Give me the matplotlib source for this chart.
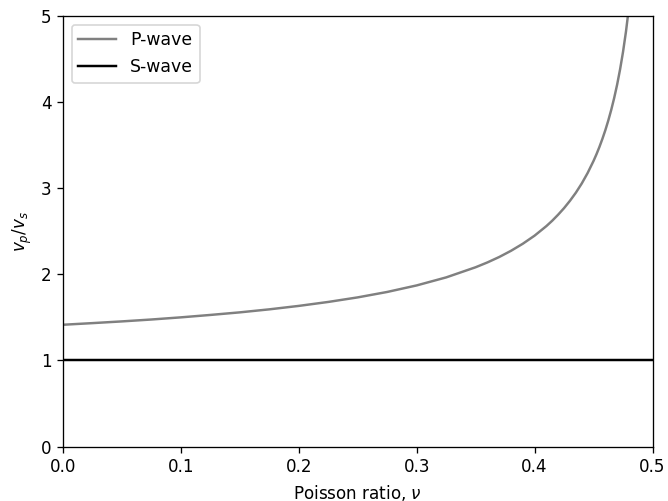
import matplotlib
matplotlib.use("Agg")
import matplotlib.pyplot as plt

# Poisson ratio values and the read-off vp/vs ratio for P-wave
nu = [0.0, 0.025, 0.05, 0.075, 0.1, 0.125, 0.15, 0.175, 0.2, 0.225, 0.25, 0.275,
      0.3, 0.325, 0.35, 0.36, 0.37, 0.38, 0.39, 0.4, 0.41, 0.415, 0.42, 0.425, 0.43,
      0.435, 0.44, 0.445, 0.45, 0.4525, 0.455, 0.4575, 0.46, 0.4625, 0.465, 0.4675,
      0.47, 0.4725, 0.475, 0.4775, 0.48]
p_wave = [1.414, 1.433, 1.453, 1.475, 1.500, 1.528, 1.558, 1.593, 1.633, 1.679, 1.732, 1.795,
          1.871, 1.964, 2.082, 2.138, 2.201, 2.273, 2.355, 2.449, 2.560, 2.623, 2.693, 2.769, 2.854,
          2.948, 3.055, 3.177, 3.317, 3.395, 3.480, 3.573, 3.674, 3.786, 3.910, 4.048,
          4.203, 4.380, 4.583, 4.819, 5.099]
s_nu = [0.0, 0.5]
s_wave = [1.0, 1.0]

dpi = 118
plt.rcParams['font.size'] = 10.2
fig = plt.figure(figsize=(668 / dpi, 501 / dpi), dpi=dpi)
ax = fig.add_axes([63 / 668, 54.5 / 501, 589.5 / 668, 430.5 / 501])
ax.plot(nu, p_wave, color="gray", label="P-wave")
ax.plot(s_nu, s_wave, color="black", label="S-wave")
ax.set_xlim(0, 0.5)
ax.set_ylim(0, 5)
ax.set_xlabel(r"Poisson ratio, $\nu$")
ax.set_ylabel(r"$v_p/v_s$")
ax.legend(loc="upper left", fontsize=10.5, handlelength=2.2)
fig.savefig("out.png", dpi=dpi)
